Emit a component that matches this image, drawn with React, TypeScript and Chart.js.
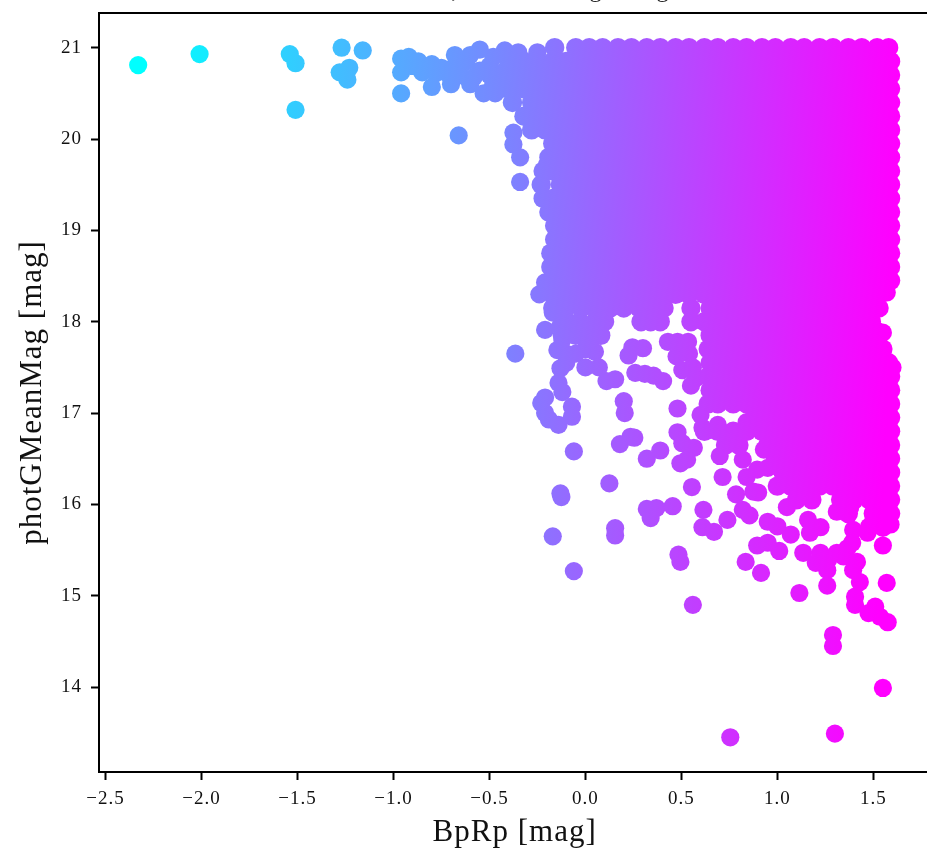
import React, { useEffect, useRef } from "react";
import { Chart, registerables } from "chart.js";

Chart.register(...registerables);

const xTicks = [-2.5, -2, -1.5, -1, -0.5, 0, 0.5, 1, 1.5];
const yTicks = [14, 15, 16, 17, 18, 19, 20, 21];
const xLabel = "BpRp [mag]";
const yLabel = "photGMeanMag [mag]";

// Individually readable stars: [BpRp, photGMeanMag]
const sparseStars: [number, number][] = [
  [-2.33,20.81],[-2.01,20.93],[-1.54,20.93],[-1.51,20.83],[-1.51,20.32],[-1.27,21.0],[-1.16,20.97],[-1.28,20.73],[-1.23,20.78],[-1.24,20.65],
  [-0.96,20.88],[-0.92,20.9],[-0.96,20.73],[-0.96,20.5],[-0.87,20.85],[-0.85,20.73],[-0.8,20.82],[-0.8,20.57],[-0.75,20.78],[-0.7,20.6],
  [-0.68,20.8],[-0.62,20.85],[-0.6,20.92],[-0.6,20.6],[-0.55,20.98],[-0.55,20.75],[-0.53,20.5],[-0.48,20.9],[-0.48,20.6],[-0.47,20.5],
  [-0.42,20.97],[-0.42,20.75],[-0.35,20.95],[-0.25,20.95],[-0.66,20.04],[-0.375,20.07],[-0.375,19.94],[-0.34,19.8],[-0.34,19.53],
  [-0.5,20.7],[-0.45,20.65],[-0.5,20.8],[-0.4,20.85],[-0.65,20.7],[-0.72,20.72],[-0.9,20.8],[-0.78,20.72],[-0.68,20.92],[-0.58,20.68],[-0.44,20.55],
  [-0.2,19.72],[-0.21,18.43],[-0.24,18.3],[-0.21,17.91],[-0.146,17.69],[-0.13,17.49],[-0.14,17.33],[-0.12,17.23],[-0.21,17.17],[-0.23,17.11],
  [-0.21,17.0],[-0.19,16.93],[-0.14,16.87],[-0.07,17.07],[-0.07,16.96],[-0.06,16.58],[-0.365,17.65],[0.05,17.67],[0,17.5],[0.07,17.5],
  [0.11,17.35],[0.155,17.37],[0.2,17.13],[0.205,17.0],[0.18,16.66],[0.255,16.73],[0.235,16.74],[0.125,16.23],[-0.13,16.12],[-0.125,16.08],
  [-0.17,15.65],[0.155,15.74],[0.155,15.66],[-0.06,15.27],[0.32,16.5],[0.39,16.59],[0.48,17.05],[0.245,17.72],[0.3,17.71],[0.225,17.63],
  [0.26,17.44],[0.31,17.43],[0.355,17.41],[0.405,17.35],[0.43,17.78],[0.48,17.78],[0.475,17.62],[0.505,17.47],[0.55,17.3],[0.48,16.79],
  [0.535,17.78],[0.54,17.65],[0.56,17.5],[0.575,17.38],
  [0.505,16.67],[0.565,16.62],[0.495,16.45],[0.53,16.49],[0.555,16.19],[0.32,15.95],[0.37,15.96],[0.455,15.98],[0.34,15.85],[0.615,15.94],
  [0.61,15.75],[0.67,15.7],[0.74,15.83],[0.485,15.45],[0.495,15.37],[0.56,14.9],[0.715,16.3],[0.7,16.53],[0.6,16.98],[0.61,16.84],
  [0.785,16.11],[0.82,15.94],[0.855,15.88],[0.84,16.3],[0.82,16.49],[0.895,16.38],[0.9,16.13],[0.875,16.14],[0.895,15.55],[0.95,15.58],
  [1.01,15.49],[0.95,15.81],[0.835,15.37],[0.915,15.25],[1.115,15.03],[1.135,15.47],[1.05,15.97],[1.07,15.67],[1.0,15.76],[1.16,15.83],
  [1.2,15.36],[1.26,15.28],[1.26,15.11],[1.405,14.99],[1.405,14.9],[1.43,15.15],[1.395,15.28],[1.415,15.37],[1.57,15.14],[1.55,15.55],
  [1.51,14.88],[1.475,14.81],[1.535,14.77],[1.575,14.71],[1.29,14.57],[1.29,14.45],[1.3,13.49],[0.755,13.45],[1.55,13.99],[1.31,15.47],
  [1.365,15.52],[1.225,15.47],[1.265,15.39],[1.345,15.43],[1.265,16.25],[1.31,15.92],[1.38,15.97],[1.395,15.72],[1.47,15.69],[1.59,15.78],
  [1.5,15.83],[1.55,15.86],[1.225,15.75],[1.17,15.69],[1.39,15.58],[0.69,16.87],[0.84,16.9],[0.93,16.6],[0.95,16.4],[1.52,17.9],[1.55,17.88],
  [1.6,17.5],[1.57,18.32],[-0.13,17.95],[-0.17,18.1],[-0.12,17.8],[-0.1,17.65],[-0.05,17.65],[0,17.7],[-0.1,17.55],
];

// Magnitude of each band of the saturated region
const bandMags = [21.0,20.85,20.7,20.55,20.4,20.25,20.1,19.95,19.8,19.65,19.5,19.35,19.2,19.05,18.9,18.75,18.6,18.45,18.3,18.15,18.0,17.85,17.7,17.55,17.4,17.25,17.1,16.95,16.8,16.65,16.5,16.35,16.2,16.05,15.9,15.75];

// BpRp of the stars read along each band
const bandBpRp: number[][] = [
  [-0.16,-0.05,0.02,0.09,0.17,0.24,0.32,0.39,0.47,0.54,0.62,0.69,0.77,0.84,0.92,0.99,1.07,1.14,1.22,1.29,1.37,1.44,1.52,1.58],
  [-0.32,-0.25,-0.17,-0.1,-0.02,0.05,0.13,0.2,0.28,0.35,0.43,0.5,0.58,0.65,0.73,0.8,0.88,0.95,1.03,1.1,1.18,1.25,1.33,1.4,1.48,1.55,1.59],
  [-0.36,-0.28,-0.21,-0.13,-0.06,0.02,0.09,0.17,0.24,0.32,0.39,0.47,0.54,0.62,0.69,0.77,0.84,0.92,0.99,1.07,1.14,1.22,1.29,1.37,1.44,1.52,1.59],
  [-0.4,-0.32,-0.25,-0.17,-0.1,-0.02,0.05,0.13,0.2,0.28,0.35,0.43,0.5,0.58,0.65,0.73,0.8,0.88,0.95,1.03,1.1,1.18,1.25,1.33,1.4,1.48,1.55,1.59],
  [-0.38,-0.28,-0.21,-0.13,-0.06,0.02,0.09,0.17,0.24,0.32,0.39,0.47,0.54,0.62,0.69,0.77,0.84,0.92,0.99,1.07,1.14,1.22,1.29,1.37,1.44,1.52,1.59],
  [-0.32,-0.25,-0.17,-0.1,-0.02,0.05,0.13,0.2,0.28,0.35,0.43,0.5,0.58,0.65,0.73,0.8,0.88,0.95,1.03,1.1,1.18,1.25,1.33,1.4,1.48,1.55,1.59],
  [-0.28,-0.21,-0.13,-0.06,0.02,0.09,0.17,0.24,0.32,0.39,0.47,0.54,0.62,0.69,0.77,0.84,0.92,0.99,1.07,1.14,1.22,1.29,1.37,1.44,1.52,1.59],
  [-0.17,-0.1,-0.02,0.05,0.13,0.2,0.28,0.35,0.43,0.5,0.58,0.65,0.73,0.8,0.88,0.95,1.03,1.1,1.18,1.25,1.33,1.4,1.48,1.55,1.59],
  [-0.19,-0.13,-0.06,0.02,0.09,0.17,0.24,0.32,0.39,0.47,0.54,0.62,0.69,0.77,0.84,0.92,0.99,1.07,1.14,1.22,1.29,1.37,1.44,1.52,1.59],
  [-0.22,-0.17,-0.1,-0.02,0.05,0.13,0.2,0.28,0.35,0.43,0.5,0.58,0.65,0.73,0.8,0.88,0.95,1.03,1.1,1.18,1.25,1.33,1.4,1.48,1.55,1.59],
  [-0.23,-0.13,-0.06,0.02,0.09,0.17,0.24,0.32,0.39,0.47,0.54,0.62,0.69,0.77,0.84,0.92,0.99,1.07,1.14,1.22,1.29,1.37,1.44,1.52,1.59],
  [-0.22,-0.17,-0.1,-0.02,0.05,0.13,0.2,0.28,0.35,0.43,0.5,0.58,0.65,0.73,0.8,0.88,0.95,1.03,1.1,1.18,1.25,1.33,1.4,1.48,1.55,1.59],
  [-0.19,-0.13,-0.06,0.02,0.09,0.17,0.24,0.32,0.39,0.47,0.54,0.62,0.69,0.77,0.84,0.92,0.99,1.07,1.14,1.22,1.29,1.37,1.44,1.52,1.59],
  [-0.16,-0.1,-0.02,0.05,0.13,0.2,0.28,0.35,0.43,0.5,0.58,0.65,0.73,0.8,0.88,0.95,1.03,1.1,1.18,1.25,1.33,1.4,1.48,1.55,1.59],
  [-0.16,-0.13,-0.06,0.02,0.09,0.17,0.24,0.32,0.39,0.47,0.54,0.62,0.69,0.77,0.84,0.92,0.99,1.07,1.14,1.22,1.29,1.37,1.44,1.52,1.59],
  [-0.18,-0.1,-0.02,0.05,0.13,0.2,0.28,0.35,0.43,0.5,0.58,0.65,0.73,0.8,0.88,0.95,1.03,1.1,1.18,1.25,1.33,1.4,1.48,1.55,1.59],
  [-0.18,-0.13,-0.06,0.02,0.09,0.17,0.24,0.32,0.39,0.47,0.54,0.62,0.69,0.77,0.84,0.92,0.99,1.07,1.14,1.22,1.29,1.37,1.44,1.52,1.59],
  [-0.17,-0.1,-0.02,0.05,0.13,0.2,0.28,0.35,0.43,0.5,0.58,0.65,0.73,0.8,0.88,0.95,1.03,1.1,1.18,1.25,1.33,1.4,1.48,1.55,1.59],
  [-0.17,-0.13,-0.06,0.02,0.09,0.17,0.24,0.32,0.39,0.47,0.54,0.62,0.69,0.77,0.84,0.92,0.99,1.07,1.14,1.22,1.29,1.37,1.44,1.52],
  [-0.17,-0.1,-0.02,0.05,0.13,0.2,0.28,0.35,0.41,0.55,0.65,0.73,0.8,0.88,0.95,1.03,1.1,1.18,1.25,1.33,1.4,1.48,1.53],
  [-0.1,-0.03,0.05,0.1,0.29,0.34,0.39,0.55,0.62,0.69,0.77,0.84,0.92,0.99,1.07,1.14,1.22,1.29,1.37,1.44,1.49],
  [-0.12,-0.05,0.02,0.08,0.65,0.73,0.8,0.88,0.95,1.03,1.1,1.18,1.25,1.33,1.4,1.48,1.53],
  [0.64,0.69,0.77,0.84,0.92,0.99,1.07,1.14,1.22,1.29,1.37,1.44,1.52,1.55],
  [0.65,0.73,0.8,0.88,0.95,1.03,1.1,1.18,1.25,1.33,1.4,1.48,1.55,1.58],
  [0.64,0.69,0.77,0.84,0.92,0.99,1.07,1.14,1.22,1.29,1.37,1.44,1.52,1.59],
  [0.65,0.73,0.8,0.88,0.95,1.03,1.1,1.18,1.25,1.33,1.4,1.48,1.55,1.59],
  [0.64,0.69,0.77,0.84,0.92,0.99,1.07,1.14,1.22,1.29,1.37,1.44,1.52,1.59],
  [0.88,0.95,1.03,1.1,1.18,1.25,1.33,1.4,1.48,1.55,1.59],
  [0.62,0.69,0.77,0.84,0.92,0.99,1.07,1.14,1.22,1.29,1.37,1.44,1.52,1.59],
  [0.73,0.8,0.95,1.03,1.1,1.18,1.25,1.33,1.4,1.48,1.55,1.59],
  [0.99,1.07,1.14,1.22,1.29,1.37,1.44,1.52,1.59],
  [1.03,1.1,1.18,1.25,1.33,1.4,1.48,1.55,1.59],
  [1.0,1.07,1.14,1.22,1.29,1.37,1.44,1.52,1.59],
  [1.1,1.18,1.33,1.4,1.48,1.55,1.59],
  [1.37,1.5,1.55,1.59],
  [1.48,1.55],
];

// The figure's title is cut off by the crop: only these descenders remain.
const clippedTitleGlyphs: [string, number][] = [[",", 455], ["g", 596], ["g", 663]];

const colorRangeBpRp = [-2.33, 1.6];
const SERIF = "'Liberation Serif', 'DejaVu Serif', serif";
const TILT = 0.04;

const framePlugin = {
  id: "frame",
  beforeDraw(chart: any) {
    chart.ctx.letterSpacing = "1px";
  },
  afterDraw(chart: any) {
    const { ctx, chartArea } = chart;
    ctx.save();
    ctx.strokeStyle = "#000";
    ctx.lineWidth = 2;
    ctx.beginPath();
    ctx.moveTo(chartArea.left - 1, chartArea.top);
    ctx.lineTo(chartArea.right, chartArea.top);
    ctx.stroke();
    ctx.fillStyle = "#222";
    ctx.font = `24px ${SERIF}`;
    ctx.textAlign = "center";
    clippedTitleGlyphs.forEach(([glyph, x]) => ctx.fillText(glyph, x, -3));
    ctx.restore();
  },
};

export default function App() {
  const ref = useRef<HTMLCanvasElement | null>(null);

  useEffect(() => {
    const bandPoints: { x: number; y: number }[] = [];
    bandMags.forEach((g, i) => bandBpRp[i].forEach((bp) => bandPoints.push({ x: bp, y: g })));
    const sparsePoints = sparseStars.map(([bp, g]) => ({ x: bp, y: g }));

    let gradient: CanvasGradient | null = null;
    const coolGradient = (c: any) => {
      const ch = c.chart;
      if (!ch.chartArea || !ch.scales.x || !ch.scales.y) return "#f0f";
      if (!gradient) {
        const x0 = ch.scales.x.getPixelForValue(colorRangeBpRp[0]);
        const x1 = ch.scales.x.getPixelForValue(colorRangeBpRp[1]);
        const y0 = ch.scales.y.getPixelForValue(19);
        if (![x0, x1, y0].every(Number.isFinite)) return "#f0f";
        const len = x1 - x0;
        gradient = ch.ctx.createLinearGradient(x0, y0, x1, y0 + len * TILT) as CanvasGradient;
        gradient.addColorStop(0, "rgb(0,255,255)");
        gradient.addColorStop(1, "rgb(255,0,255)");
      }
      return gradient;
    };

    const chart = new Chart(ref.current as HTMLCanvasElement, {
      type: "scatter",
      data: {
        datasets: [
          {
            label: "bands",
            data: bandPoints,
            pointRadius: 9.7,
            pointHoverRadius: 9.7,
            pointBorderWidth: 0,
            backgroundColor: coolGradient,
            order: 1,
          },
          {
            label: "stars",
            data: sparsePoints,
            pointRadius: 9.1,
            pointHoverRadius: 9.1,
            pointBorderWidth: 0,
            backgroundColor: coolGradient,
            order: 2,
          },
        ],
      },
      options: {
        animation: false,
        responsive: false,
        layout: { padding: { top: 13, right: 9.4, left: 0, bottom: 0 } },
        plugins: { legend: { display: false }, title: { display: false }, tooltip: { enabled: false } },
        scales: {
          x: {
            type: "linear",
            min: -2.534,
            max: 1.797,
            afterFit: (s: any) => { s.height = 79; s.paddingLeft = 0; s.paddingRight = 0; },
            afterBuildTicks: (s: any) => { s.ticks = xTicks.map((value) => ({ value })); },
            border: { display: true, color: "#000", width: 2 },
            grid: { drawOnChartArea: false, drawTicks: true, tickLength: 8, tickWidth: 2, tickColor: "#000" },
            ticks: {
              color: "#111",
              font: { family: SERIF, size: 19 },
              padding: 8,
              autoSkip: false,
              maxRotation: 0,
              callback: (v: any) => Number(v).toFixed(1).replace("-", "\u2212"),
            },
            title: { display: true, text: xLabel, color: "#111", font: { family: SERIF, size: 31 }, padding: { top: 0, bottom: 0 } },
          },
          y: {
            type: "linear",
            min: 13.07,
            max: 21.38,
            afterFit: (s: any) => { s.width = 99; s.paddingTop = 0; s.paddingBottom = 0; },
            afterBuildTicks: (s: any) => { s.ticks = yTicks.map((value) => ({ value })); },
            border: { display: true, color: "#000", width: 2 },
            grid: { drawOnChartArea: false, drawTicks: true, tickLength: 8, tickWidth: 2, tickColor: "#000" },
            ticks: {
              color: "#111",
              font: { family: SERIF, size: 19 },
              padding: 9,
              autoSkip: false,
              callback: (v: any) => String(v),
            },
            title: { display: true, text: yLabel, color: "#111", font: { family: SERIF, size: 31 }, padding: { top: 14, bottom: 0 } },
          },
        },
      },
      plugins: [framePlugin],
    } as any);
    return () => chart.destroy();
  }, []);

  return (
    <div style={{ position: "absolute", left: 0, top: 0, width: 927, height: 851, overflow: "hidden", background: "#fff" }}>
      <canvas ref={ref} width={940} height={851} style={{ display: "block" }} />
    </div>
  );
}
